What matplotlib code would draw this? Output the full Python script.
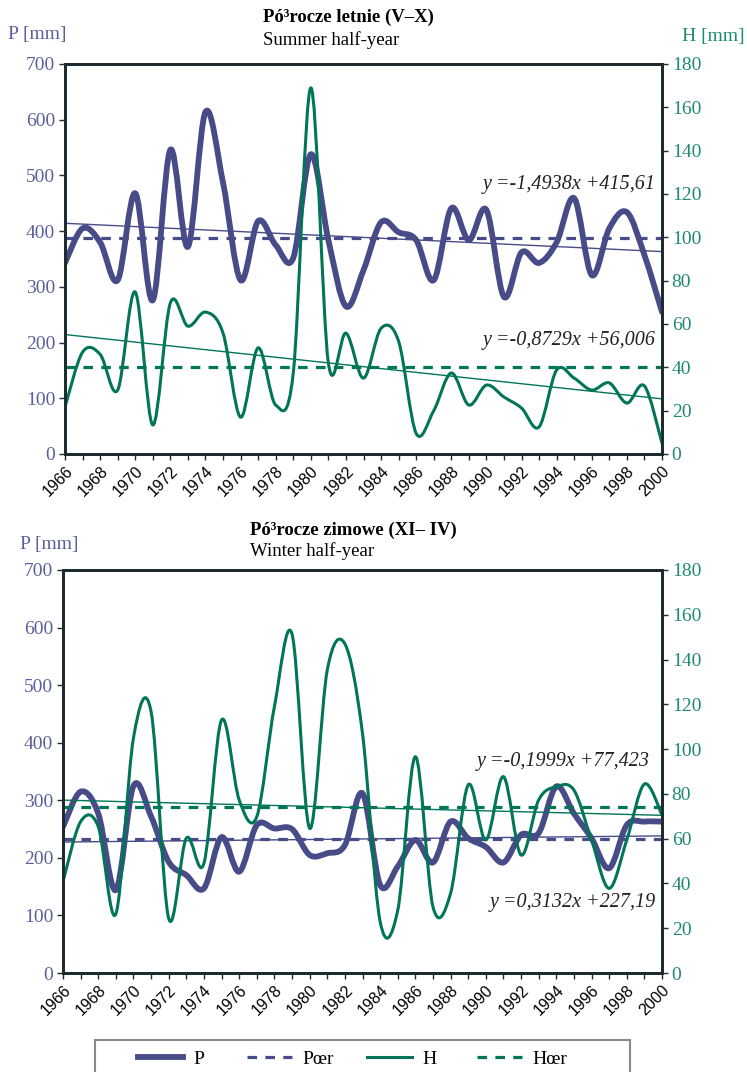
import numpy as np
import matplotlib
matplotlib.use('Agg')
import matplotlib.pyplot as plt
from matplotlib.path import Path
from matplotlib.patches import PathPatch, Rectangle
from matplotlib.lines import Line2D

years = list(range(1966, 2001))

# Summer half-year (V-X)
p_summer = [343, 405, 380, 312, 468, 276, 546, 372, 614, 487, 312, 418, 375, 352, 538,
            384, 265, 330, 416, 398, 384, 312, 441, 384, 438, 282, 362, 343, 380, 459,
            321, 405, 434, 357, 255]
h_summer = [21.7, 47, 46, 29.5, 74.8, 13.4, 69.7, 59, 65.5, 55.8, 17, 49, 22.6, 37.4, 169,
            42, 55.8, 35, 58, 52, 9.5, 20, 37.4, 22.6, 31.8, 26.3, 21.2, 12.5, 38.8, 35,
            29.5, 32.8, 23.5, 31.4, 5]
# Winter half-year (XI-IV)
p_winter = [254, 315, 277, 144, 325, 272, 193, 170, 147, 236, 176, 257, 251, 250, 205,
            208, 222, 312, 153, 185, 231, 192, 263, 234, 219, 192, 240, 243, 324, 277,
            234, 182, 257, 263, 263]
h_winter = [40.8, 67.6, 65.4, 26.4, 105, 116.7, 24.4, 60.2, 49, 113, 77.3, 69.8, 119, 151.4, 64.6,
            135.3, 147, 107, 23, 28, 96.6, 29.6, 35.6, 84, 59.4, 87.7, 52.7, 77.3, 83.2, 81.7,
            59.4, 37.8, 59.4, 84.4, 70.6]

# trend coefficients (slope, intercept), x = 1..35
trend_p_summer = (-1.4938, 415.61)
trend_h_summer = (-0.8729, 56.006)
trend_p_winter = (0.3132, 227.19)
trend_h_winter = (-0.1999, 77.423)

legend_labels = ['P', 'Pœr', 'H', 'Hœr']

P_COLOR = '#474b88'
H_COLOR = '#007558'
P_TICK = '#5b5f9a'
H_TICK = '#1f8a70'
FRAME = '#1c2b2d'
SERIF = 'Liberation Serif'
SANS = 'Liberation Sans'


def smooth_path(x, y):
    # excel-style smoothed line: cubic bezier through every point
    x = np.asarray(x, float)
    y = np.asarray(y, float)
    n = len(x)
    verts = [(x[0], y[0])]
    codes = [Path.MOVETO]
    for i in range(n - 1):
        a = max(i - 1, 0)
        b = min(i + 2, n - 1)
        c1 = (x[i] + (x[i + 1] - x[a]) / 6, y[i] + (y[i + 1] - y[a]) / 6)
        c2 = (x[i + 1] - (x[b] - x[i]) / 6, y[i + 1] - (y[b] - y[i]) / 6)
        verts += [c1, c2, (x[i + 1], y[i + 1])]
        codes += [Path.CURVE4] * 3
    return Path(verts, codes)


def fmt_eq(t):
    return 'y =%sx +%s' % (str(t[0]).replace('.', ','), str(t[1]).replace('.', ','))


def panel(fig, rect, p, h, tp, th, p_eq_pos, h_eq_pos):
    ax = fig.add_axes(rect)
    ax2 = ax.twinx()
    ax.set_xlim(1966, 2000)
    ax.set_ylim(0, 700)
    ax2.set_ylim(0, 180)
    x = np.array(years)
    n = np.arange(1, len(years) + 1)

    ax.plot(x, tp[0] * n + tp[1], color=P_COLOR, lw=1.0)
    ax.axhline(np.mean(p), color=P_COLOR, lw=2.3, dashes=(3, 2.6))
    ax.add_patch(PathPatch(smooth_path(x, p), fill=False, edgecolor=P_COLOR, lw=4.2,
                           capstyle='round', joinstyle='round'))

    ax2.plot(x, th[0] * n + th[1], color=H_COLOR, lw=1.0)
    ax2.axhline(np.mean(h), color=H_COLOR, lw=2.3, dashes=(3, 2.6))
    ax2.add_patch(PathPatch(smooth_path(x, h), fill=False, edgecolor=H_COLOR, lw=2.2,
                            capstyle='round', joinstyle='round'))

    ax.set_xticks(years, minor=True)
    ax.set_xticks(years[::2])
    ax.set_xticklabels([str(y) for y in years[::2]], rotation=45, ha='right',
                       rotation_mode='anchor', family=SANS, fontsize=11.5)
    ax.set_yticks(range(0, 701, 100))
    ax2.set_yticks(range(0, 181, 20))
    for lab in ax.get_yticklabels():
        lab.set_family(SERIF)
        lab.set_fontsize(14)
        lab.set_color(P_TICK)
    for lab in ax2.get_yticklabels():
        lab.set_family(SERIF)
        lab.set_fontsize(14)
        lab.set_color(H_TICK)
    ax.tick_params(axis='x', which='both', length=4, width=1, color=FRAME, pad=3)
    ax.tick_params(axis='y', length=4, width=1, color=FRAME, pad=3)
    ax2.tick_params(axis='y', length=4, width=1, color=FRAME, pad=3)
    for a in (ax, ax2):
        for s in a.spines.values():
            s.set_color(FRAME)
            s.set_linewidth(2.0)

    ax.text(p_eq_pos[0], p_eq_pos[1], fmt_eq(tp), transform=ax.transAxes, ha='right',
            va='center', family=SERIF, style='italic', fontsize=14.5, color='#222222')
    ax.text(h_eq_pos[0], h_eq_pos[1], fmt_eq(th), transform=ax.transAxes, ha='right',
            va='center', family=SERIF, style='italic', fontsize=14.5, color='#222222')
    return ax, ax2


W, H = 747, 1072
fig = plt.figure(figsize=(W / 100, H / 100), dpi=100)

panel(fig, [65 / W, 1 - 454 / H, 597 / W, 390 / H], p_summer, h_summer,
      trend_p_summer, trend_h_summer, (0.99, 0.69), (0.99, 0.29))
panel(fig, [63 / W, 1 - 973 / H, 599 / W, 403 / H], p_winter, h_winter,
      trend_p_winter, trend_h_winter, (0.99, 0.175), (0.98, 0.525))

# titles
fig.text(263 / W, 1 - 17 / H, 'Pó³rocze letnie (V–X)', ha='left', va='center',
         family=SERIF, fontweight='bold', fontsize=13.5)
fig.text(263 / W, 1 - 40 / H, 'Summer half-year', ha='left', va='center',
         family=SERIF, fontsize=13.5)
fig.text(8 / W, 1 - 35 / H, 'P [mm]', ha='left', va='center', family=SERIF,
         fontsize=14, color=P_TICK)
fig.text(745 / W, 1 - 37 / H, 'H [mm]', ha='right', va='center', family=SERIF,
         fontsize=14, color=H_TICK)
fig.text(250 / W, 1 - 530 / H, 'Pó³rocze zimowe (XI– IV)', ha='left', va='center',
         family=SERIF, fontweight='bold', fontsize=13.5)
fig.text(250 / W, 1 - 551 / H, 'Winter half-year', ha='left', va='center',
         family=SERIF, fontsize=13.5)
fig.text(20 / W, 1 - 545 / H, 'P [mm]', ha='left', va='center', family=SERIF,
         fontsize=14, color=P_TICK)

# legend box (cut off at the bottom of the figure)
fig.patches.append(Rectangle((95 / W, -0.02), 535 / W, 0.02 + (1072 - 1040) / H,
                             transform=fig.transFigure, fill=False,
                             edgecolor='#8a8a86', lw=1.5))
handles = [
    Line2D([], [], color=P_COLOR, lw=4.2),
    Line2D([], [], color=P_COLOR, lw=2.3, dashes=(3, 2.6)),
    Line2D([], [], color=H_COLOR, lw=2.2),
    Line2D([], [], color=H_COLOR, lw=2.3, dashes=(3, 2.6)),
]
starts = [138, 247, 367, 477]
for hdl, lab, sx in zip(handles, legend_labels, starts):
    fig.legend([hdl], [lab], loc='center left', bbox_to_anchor=(sx / W, 1 - 1059 / H),
               frameon=False, borderpad=0, borderaxespad=0,
               prop={'family': SERIF, 'size': 14}, handlelength=2.3, handletextpad=0.55)

fig.savefig('out.png', dpi=100)
